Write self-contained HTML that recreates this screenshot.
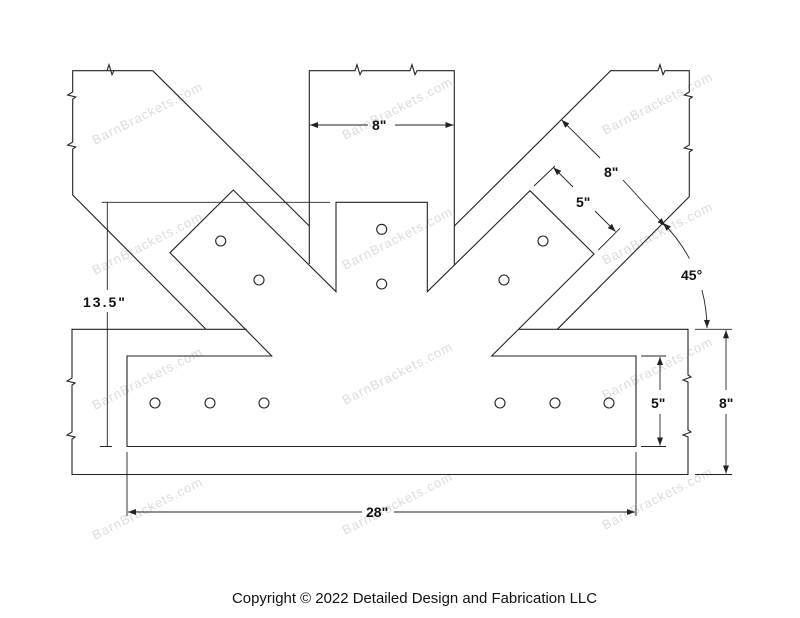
<!DOCTYPE html>
<html><head><meta charset="utf-8"><style>
html,body{margin:0;padding:0;background:#fff}
svg{display:block}
.l{stroke:#222;stroke-width:1.1;fill:none}
.d{stroke:#222;stroke-width:0.9;fill:none}
.t{font-family:"Liberation Sans",sans-serif;font-weight:bold;font-size:14px;fill:#111}
.w{font-family:"Liberation Sans",sans-serif;font-size:13px;fill:#dcdcdc;letter-spacing:1px}
</style></head><body>
<svg width="800" height="618" viewBox="0 0 800 618" xmlns="http://www.w3.org/2000/svg">
<defs><marker id="a" markerWidth="8" markerHeight="6" refX="8" refY="3" orient="auto" markerUnits="userSpaceOnUse"><path d="M0,0 L8,3 L0,6 z" fill="#222"/></marker></defs>
<g class="w">
<text transform="translate(95,145) rotate(-27)">BarnBrackets.com</text>
<text transform="translate(345,140) rotate(-27)">BarnBrackets.com</text>
<text transform="translate(605,135) rotate(-27)">BarnBrackets.com</text>
<text transform="translate(95,275) rotate(-27)">BarnBrackets.com</text>
<text transform="translate(345,270) rotate(-27)">BarnBrackets.com</text>
<text transform="translate(605,265) rotate(-27)">BarnBrackets.com</text>
<text transform="translate(95,410) rotate(-27)">BarnBrackets.com</text>
<text transform="translate(345,405) rotate(-27)">BarnBrackets.com</text>
<text transform="translate(605,400) rotate(-27)">BarnBrackets.com</text>
<text transform="translate(95,540) rotate(-27)">BarnBrackets.com</text>
<text transform="translate(345,535) rotate(-27)">BarnBrackets.com</text>
<text transform="translate(605,530) rotate(-27)">BarnBrackets.com</text>
</g>
<path class="l" d="M152.7,70.7 L107,70.7 l2,-6 l3,10 l2,-4 L72.7,70.7 L72.7,92 l-5,3 l8,2 l-3,2 L72.7,142 l-5,3 l8,2 l-3,2 L72.7,195 L205.7,329"/>
<path class="l" d="M152.7,70.7 L309.3,226"/>
<path class="l" d="M309.3,264 L309.3,70.7 L355,70.7 l2,-6 l3,10 l2,-4 L410,70.7 l2,-6 l3,10 l2,-4 L454.3,70.7 L454.3,264.5"/>
<path class="l" d="M454.3,226 L610.7,70.7 L658,70.7 l2,-6 l3,10 l2,-4 L689.3,70.7 L689.3,92 l-5,3 l8,2 l-3,2 L689.3,145 l-5,3 l8,2 l-3,2 L689.3,196.7 L557.3,329.3"/>
<path class="l" d="M246.6,329.3 L72,329.3 L72,378 l-5,3 l8,2 l-3,2 L72,432 l-5,3 l8,2 l-3,2 L72,474.5 L688,474.5 L688,437 l-5,-2 l8,-3 l-3,-2 L688,382 l-5,-2 l8,-3 l-3,-2 L688,329.3 L519,329.3"/>
<path class="l" d="M170,252.7 L233.3,190 L336,291.7 L336,202.3 L427.3,202.3 L427.3,291.7 L530,190.7 L594,254 L491.7,356 L636,356 L636,446.5 L127,446.5 L127,356 L271.7,356 Z"/>
<g class="l" stroke-width="1">
<circle cx="220.7" cy="241" r="5"/><circle cx="259" cy="280" r="5"/>
<circle cx="381.7" cy="229.3" r="5"/><circle cx="381.7" cy="284" r="5"/>
<circle cx="543" cy="241" r="5"/><circle cx="504" cy="280" r="5"/>
<circle cx="155" cy="403" r="5"/><circle cx="210" cy="403" r="5"/><circle cx="264" cy="403" r="5"/>
<circle cx="500" cy="403" r="5"/><circle cx="555" cy="403" r="5"/><circle cx="609" cy="403" r="5"/>
</g>
<path class="d" d="M101.7,202.3 L330,202.3 M100,446.5 L112,446.5 M107.3,202.3 L107.3,290 M107.3,312 L107.3,446.5"/>
<text class="t" x="83" y="307" letter-spacing="2">13.5"</text>
<path class="d" d="M368,125 L310,125" marker-end="url(#a)"/>
<path class="d" d="M395,125 L453.5,125" marker-end="url(#a)"/>
<text class="t" x="372" y="130">8"</text>
<path class="d" d="M600,158 L561.7,120" marker-end="url(#a)"/>
<path class="d" d="M623,180 L665,226" marker-end="url(#a)"/>
<text class="t" x="604" y="177">8"</text>
<path class="d" d="M534,186 L555,166 M598.3,250 L620,228.3"/>
<path class="d" d="M573,187 L553.5,167.5" marker-end="url(#a)"/>
<path class="d" d="M595,211 L615.5,231.5" marker-end="url(#a)"/>
<text class="t" x="576" y="207">5"</text>
<path class="d" d="M689.4,258.6 A150,150 0 0 0 663,223" marker-end="url(#a)"/>
<path class="d" d="M701.9,290 A150,150 0 0 1 707,328" marker-end="url(#a)"/>
<text class="t" x="681" y="280">45°</text>
<path class="d" d="M641,356 L666,356 M641,446.5 L666,446.5"/>
<path class="d" d="M660,390 L660,357" marker-end="url(#a)"/>
<path class="d" d="M660,414 L660,445.5" marker-end="url(#a)"/>
<text class="t" x="651" y="408">5"</text>
<path class="d" d="M695,329.3 L732,329.3 M695,474.5 L732,474.5"/>
<path class="d" d="M726,390 L726,330.3" marker-end="url(#a)"/>
<path class="d" d="M726,414 L726,473.5" marker-end="url(#a)"/>
<text class="t" x="719" y="408">8"</text>
<path class="d" d="M127,452 L127,516 M636,452 L636,516"/>
<path class="d" d="M362,512 L128,512" marker-end="url(#a)"/>
<path class="d" d="M394,512 L635,512" marker-end="url(#a)"/>
<text class="t" x="366" y="517">28"</text>
<text x="232" y="603" font-family="Liberation Sans, sans-serif" font-size="15" fill="#111" textLength="365" lengthAdjust="spacingAndGlyphs">Copyright © 2022 Detailed Design and Fabrication LLC</text>
</svg>
</body></html>
